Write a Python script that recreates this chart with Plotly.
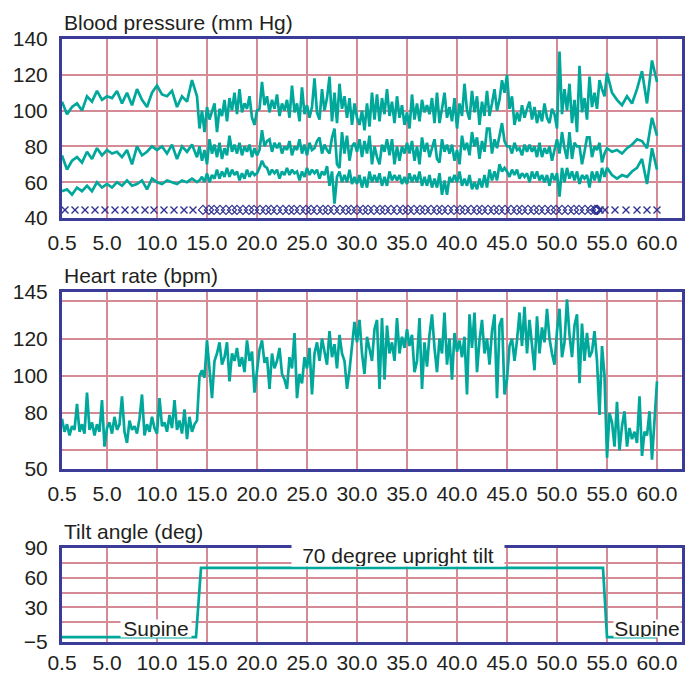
import plotly.graph_objects as go

# ---------------- data ----------------
# Blood pressure: supine phase every 0.5 min (0.5-14.0), tilt phase every
# 0.25 min (14.25-55.0), recovery every 0.5 min (55.5-60.0)
sys_supine = [105, 98, 102, 104, 100, 108, 105, 111, 106, 108,
              107, 111, 104, 110, 103, 112, 106, 102, 110, 114,
              109, 108, 111, 102, 108, 105, 117, 108]
sys_tilt = [90, 100, 88, 102,   95, 99, 104, 88,    101, 97, 106, 94,
            107, 100, 110, 98,  112, 99, 104, 101,  108, 96, 92, 100,
            101, 116, 103, 108, 99, 106, 101, 109,  97, 104, 100, 106,
            96, 114, 99, 104,   94, 113, 98, 103,   96, 102, 118, 99,
            95, 112, 100, 107,  119, 94, 110, 93,   115, 101, 108, 96,
            107, 92, 104, 96,   92, 100, 89, 104,   91, 110, 95, 109,
            94, 107, 98, 112,   97, 105, 93, 108,   96, 103, 92, 99,
            90, 109, 95, 104,   94, 106, 99, 103,   98, 107, 93, 110,
            93, 101, 110, 96,   102, 94, 107, 90,   104, 97, 115, 100,
            95, 111, 99, 108,   92, 105, 97, 111,   97, 104, 112, 100,
            106, 117, 110, 120, 101, 108, 92, 99,   94, 103, 96, 101,
            105, 95, 102, 93,   100, 94, 104, 96,   93, 101, 98, 90,
            133, 98, 112, 100,  115, 93, 106, 88,   125, 99, 107, 95,
            119, 102, 110, 101, 117, 112, 108, 121]
sys_recovery = [110, 106, 103, 108, 104, 112, 122, 104, 128, 116]

mean_supine = [75, 67, 72, 74, 71, 77, 73, 79, 75, 78,
               76, 77, 74, 78, 70, 80, 75, 77, 80, 78,
               80, 76, 81, 73, 80, 77, 81, 74]
mean_tilt = [80, 72, 78, 70,   84, 76, 81, 74,   82, 73, 79, 75,
             86, 77, 81, 76,   82, 75, 80, 77,   81, 74, 79, 75,
             78, 89, 80, 83,   84, 77, 82, 79,   82, 76, 80, 78,
             83, 75, 80, 78,   84, 76, 81, 75,   82, 78, 79, 83,
             85, 76, 81, 78,   76, 85, 90, 70,   68, 88, 76, 86,
             72, 80, 82, 77,   84, 74, 83, 76,   86, 70, 80, 74,
             70, 81, 77, 84,   75, 84, 70, 80,   72, 80, 76, 82,
             76, 83, 72, 80,   70, 85, 77, 82,   74, 79, 84, 73,
             71, 84, 77, 81,   76, 81, 72, 78,   70, 86, 78, 82,
             75, 88, 80, 85,   73, 83, 77, 90,   90, 76, 84, 79,
             87, 93, 83, 80,   80, 76, 82, 78,   79, 75, 81, 77,
             81, 77, 80, 74,   82, 74, 79, 76,   80, 72, 78, 84,
             76, 88, 79, 73,   88, 73, 82, 80,   80, 70, 77, 85,
             85, 74, 80, 78,   82, 71, 76, 79]
mean_recovery = [77, 78, 76, 79, 81, 84, 83, 79, 96, 86]

dia_supine = [55, 56, 53, 57, 55, 58, 55, 60, 57, 59,
              57, 60, 58, 61, 58, 59, 61, 56, 62, 60,
              59, 61, 60, 59, 61, 60, 62, 60]
dia_tilt = [61, 63, 60, 65,   60, 64, 62, 67,   62, 66, 63, 68,
            63, 67, 64, 66,   61, 65, 62, 67,   63, 66, 64, 65,
            68, 72, 69, 68,   64, 67, 65, 67,   62, 66, 64, 68,
            64, 67, 65, 66,   61, 66, 63, 68,   64, 67, 65, 67,
            62, 66, 64, 69,   58, 66, 48, 63,   66, 60, 64, 60,
            67, 59, 63, 59,   64, 57, 63, 57,   66, 60, 64, 60,
            65, 58, 63, 58,   66, 61, 64, 61,   64, 59, 63, 59,
            65, 60, 64, 60,   66, 58, 63, 58,   64, 57, 62, 57,
            65, 53, 61, 53,   63, 60, 64, 60,   66, 58, 62, 58,
            64, 56, 60, 56,   62, 57, 64, 57,   67, 61, 66, 61,
            70, 66, 68, 66,   63, 67, 64, 67,   62, 65, 63, 65,
            60, 66, 62, 66,   61, 64, 60, 64,   58, 65, 61, 65,
            52, 68, 60, 68,   62, 66, 61, 66,   59, 64, 62, 64,
            57, 66, 61, 66,   60, 68, 63, 68]
dia_recovery = [64, 62, 64, 63, 66, 68, 73, 59, 79, 67]

bp_time = ([0.5 * (i + 1) for i in range(len(sys_supine))]
           + [14.0 + 0.25 * (i + 1) for i in range(len(sys_tilt))]
           + [55.0 + 0.5 * (i + 1) for i in range(len(sys_recovery))])
systolic = sys_supine + sys_tilt + sys_recovery
mean_bp = mean_supine + mean_tilt + mean_recovery
diastolic = dia_supine + dia_tilt + dia_recovery

# beat-marker events on the blood pressure panel (minutes)
supine_marks = [0.8, 1.8, 2.8, 3.8, 4.8, 5.8, 6.8, 7.8, 8.8, 9.7, 10.7, 11.7,
                12.7, 13.6, 54.3, 54.8, 55.8, 56.9, 58.0, 59.0, 60.0]
tilt_marks = [14.6, 15.2, 15.7, 16.3, 16.9, 17.5, 18.0, 18.6, 19.2, 19.7,
              20.3, 20.9, 21.4, 22.0, 22.6, 23.2, 23.7, 24.3, 24.9, 25.4,
              26.0, 26.6, 27.1, 27.7, 28.3, 28.9, 29.4, 30.0, 30.6, 31.1,
              31.7, 32.3, 32.8, 33.4, 34.0, 34.6, 35.1, 35.7, 36.3, 36.8,
              37.4, 38.0, 38.5, 39.1, 39.7, 40.3, 40.8, 41.4, 42.0, 42.5,
              43.1, 43.7, 44.2, 44.8, 45.4, 46.0, 46.5, 47.1, 47.7, 48.2,
              48.8, 49.4, 49.9, 50.5, 51.1, 51.7, 52.2, 52.8, 53.4, 53.8,
              53.95, 54.05]
mark_level = 44.5

# Heart rate, sampled every 0.25 min from 0.5 to 60.0
heart_rate = [
    77, 70,                 # 0.5
    74, 68, 73, 71,         # 1
    85, 70, 74, 69,         # 2
    91, 71, 75, 68,         # 3
    74, 70, 87, 62,         # 4
    72, 75, 69, 78,         # 5
    71, 74, 89, 70,         # 6
    64, 76, 71, 73,         # 7
    69, 77, 90, 68,         # 8
    74, 70, 78, 72,         # 9
    69, 88, 73, 75,         # 10
    70, 79, 72, 87,         # 11
    71, 76, 69, 82,         # 12
    66, 78, 70, 74,         # 13
    76, 100, 103, 99,       # 14
    119, 104, 88, 108,      # 15
    112, 118, 106, 110,     # 16
    118, 97, 112, 108,      # 17
    115, 105, 110, 102,     # 18
    119, 108, 113, 91,      # 19
    103, 114, 119, 107,     # 20
    110, 93, 112, 104,      # 21
    108, 115, 101, 98,      # 22
    93, 110, 104, 123,      # 23
    88, 101, 96, 110,       # 24
    104, 115, 90, 112,      # 25
    118, 108, 120, 113,     # 26
    106, 124, 110, 117,     # 27
    104, 122, 112, 108,     # 28
    93, 103, 115, 129,      # 29
    118, 130, 112, 101,     # 30
    121, 114, 108, 125,     # 31
    130, 93, 131, 98,       # 32
    127, 112, 118, 108,     # 33
    131, 112, 121, 115,     # 34
    125, 116, 122, 102,     # 35
    108, 131, 93, 118,      # 36
    105, 122, 133, 115,     # 37
    102, 120, 112, 134,     # 38
    106, 120, 98, 123,      # 39
    113, 119, 110, 121,     # 40
    90, 133, 115, 134,      # 41
    102, 119, 130, 112,     # 42
    120, 106, 124, 133,     # 43
    88, 127, 131, 90,       # 44
    98, 116, 120, 108,      # 45
    119, 134, 116, 137,     # 46
    112, 130, 118, 103,     # 47
    132, 112, 126, 118,     # 48
    136, 120, 112, 106,     # 49
    124, 136, 110, 118,     # 50
    141, 122, 110, 127,     # 51
    133, 96, 128, 108,      # 52
    123, 110, 113, 124,     # 53
    108, 79, 116, 100,      # 54
    56, 80, 75, 62,         # 55
    86, 60, 73, 81,         # 56
    62, 72, 66, 70,         # 57
    64, 89, 57, 70,         # 58
    68, 81, 55, 77,         # 59
    97,                     # 60
]
hr_time = [0.5 + 0.25 * i for i in range(len(heart_rate))]

# Tilt angle
tilt_time = [0.5, 13.9, 14.4, 54.6, 55.0, 60.0]
tilt_angle = [0, 0, 70, 70, 0, 0]

x_ticks = [0.5, 5, 10, 15, 20, 25, 30, 35, 40, 45, 50, 55, 60]
x_ticktext = ["0.5", "5.0", "10.0", "15.0", "20.0", "25.0", "30.0",
              "35.0", "40.0", "45.0", "50.0", "55.0", "60.0"]
bp_ticks = [40, 60, 80, 100, 120, 140]
hr_ticks = [50, 80, 100, 120, 145]
hr_grid = [60, 140]
tilt_ticks = [-5, 30, 60, 90]
tilt_ticktext = ["\u22125", "30", "60", "90"]
tilt_grid = [15, 45, 75]

# ---------------- style ----------------
TEAL = "#00a89c"
NAVY = "#3b3b98"
MARK = "#2e3192"
GRID = "#d48b96"
TXT = "#231f20"
FONT = "Liberation Sans, Arial, sans-serif"
FS = 21

W, H = 694, 673
ML, MR, MT, MB = 62, 12, 39, 31
PH = H - MT - MB


def dom(top_px, bot_px):
    return [(H - MB - bot_px) / PH, (H - MB - top_px) / PH]


d1 = dom(39, 218)
d2 = dom(292, 469)
d3 = dom(548, 642)

fig = go.Figure()
line = dict(color=TEAL, width=2.7)
for s in (systolic, mean_bp, diastolic):
    fig.add_trace(go.Scatter(x=bp_time, y=s, mode="lines", line=line,
                             xaxis="x", yaxis="y", showlegend=False))
fig.add_trace(go.Scatter(x=supine_marks, y=[mark_level] * len(supine_marks),
                         mode="markers", xaxis="x", yaxis="y", showlegend=False,
                         marker=dict(symbol="x-thin", size=7,
                                     line=dict(color=MARK, width=1.4))))
fig.add_trace(go.Scatter(x=tilt_marks, y=[mark_level] * len(tilt_marks),
                         mode="markers", xaxis="x", yaxis="y", showlegend=False,
                         marker=dict(symbol="diamond-open", size=7, color=MARK,
                                     line=dict(color=MARK, width=1.2))))
fig.add_trace(go.Scatter(x=hr_time, y=heart_rate, mode="lines", line=line,
                         xaxis="x2", yaxis="y2", showlegend=False))
fig.add_trace(go.Scatter(x=tilt_time, y=tilt_angle, mode="lines", line=line,
                         xaxis="x3", yaxis="y3", showlegend=False))


def xax(anchor, standoff=4):
    return dict(domain=[0, 1], anchor=anchor, range=[0.5, 62.5],
                tickmode="array", tickvals=x_ticks, ticktext=x_ticktext,
                tickangle=0, showgrid=True, gridcolor=GRID, gridwidth=1.5,
                zeroline=False, showline=True, mirror=True, linecolor=NAVY,
                linewidth=3, ticks="", ticklabelstandoff=standoff,
                automargin=False,
                tickfont=dict(family=FONT, size=FS, color=TXT))


def yax(anchor, domain, rng, tv, tt=None, minor=None):
    d = dict(domain=domain, anchor=anchor, range=rng, tickmode="array",
             tickvals=tv, showgrid=True, gridcolor=GRID, gridwidth=1.5,
             zeroline=False, showline=True, mirror=True, linecolor=NAVY,
             linewidth=3, ticks="", ticklabelstandoff=7, automargin=False,
             tickfont=dict(family=FONT, size=FS, color=TXT))
    if tt is not None:
        d["ticktext"] = tt
    if minor is not None:
        d["minor"] = dict(tickmode="array", tickvals=minor, showgrid=True,
                          gridcolor=GRID, gridwidth=1.5, ticks="")
    return d


fig.update_layout(
    width=W, height=H,
    margin=dict(l=ML, r=MR, t=MT, b=MB, autoexpand=False),
    paper_bgcolor="white", plot_bgcolor="white",
    xaxis=xax("y"), xaxis2=xax("y2"), xaxis3=xax("y3", standoff=0),
    yaxis=yax("x", d1, [40, 140], bp_ticks),
    yaxis2=yax("x2", d2, [50, 145], hr_ticks, minor=hr_grid),
    yaxis3=yax("x3", d3, [-5, 90], tilt_ticks, tilt_ticktext, minor=tilt_grid),
)

tfont = dict(family=FONT, size=FS, color=TXT)
for txt, d in (("Blood pressure (mm Hg)", d1), ("Heart rate (bpm)", d2),
               ("Tilt angle (deg)", d3)):
    fig.add_annotation(text=txt, xref="paper", yref="paper", x=0, y=d[1],
                       xanchor="left", yanchor="middle", yshift=17,
                       showarrow=False, font=tfont)

fig.add_annotation(text="70 degree upright tilt", xref="x3", yref="y3",
                   x=34.1, y=83, showarrow=False, font=tfont,
                   bgcolor="white", borderpad=0, height=22, width=212)
fig.add_annotation(text="Supine", xref="x3", yref="y3", x=9.9, y=8.5,
                   showarrow=False, font=tfont, bgcolor="white",
                   borderpad=0, height=17, width=70)
fig.add_annotation(text="Supine", xref="x3", yref="y3", x=59.0, y=8.5,
                   showarrow=False, font=tfont, bgcolor="white",
                   borderpad=0, height=17, width=66)

fig.write_html(
    "out.html",
    config={"displayModeBar": False},
    post_script="document.body.style.margin='0';"
                "document.body.style.overflow='hidden';",
)
